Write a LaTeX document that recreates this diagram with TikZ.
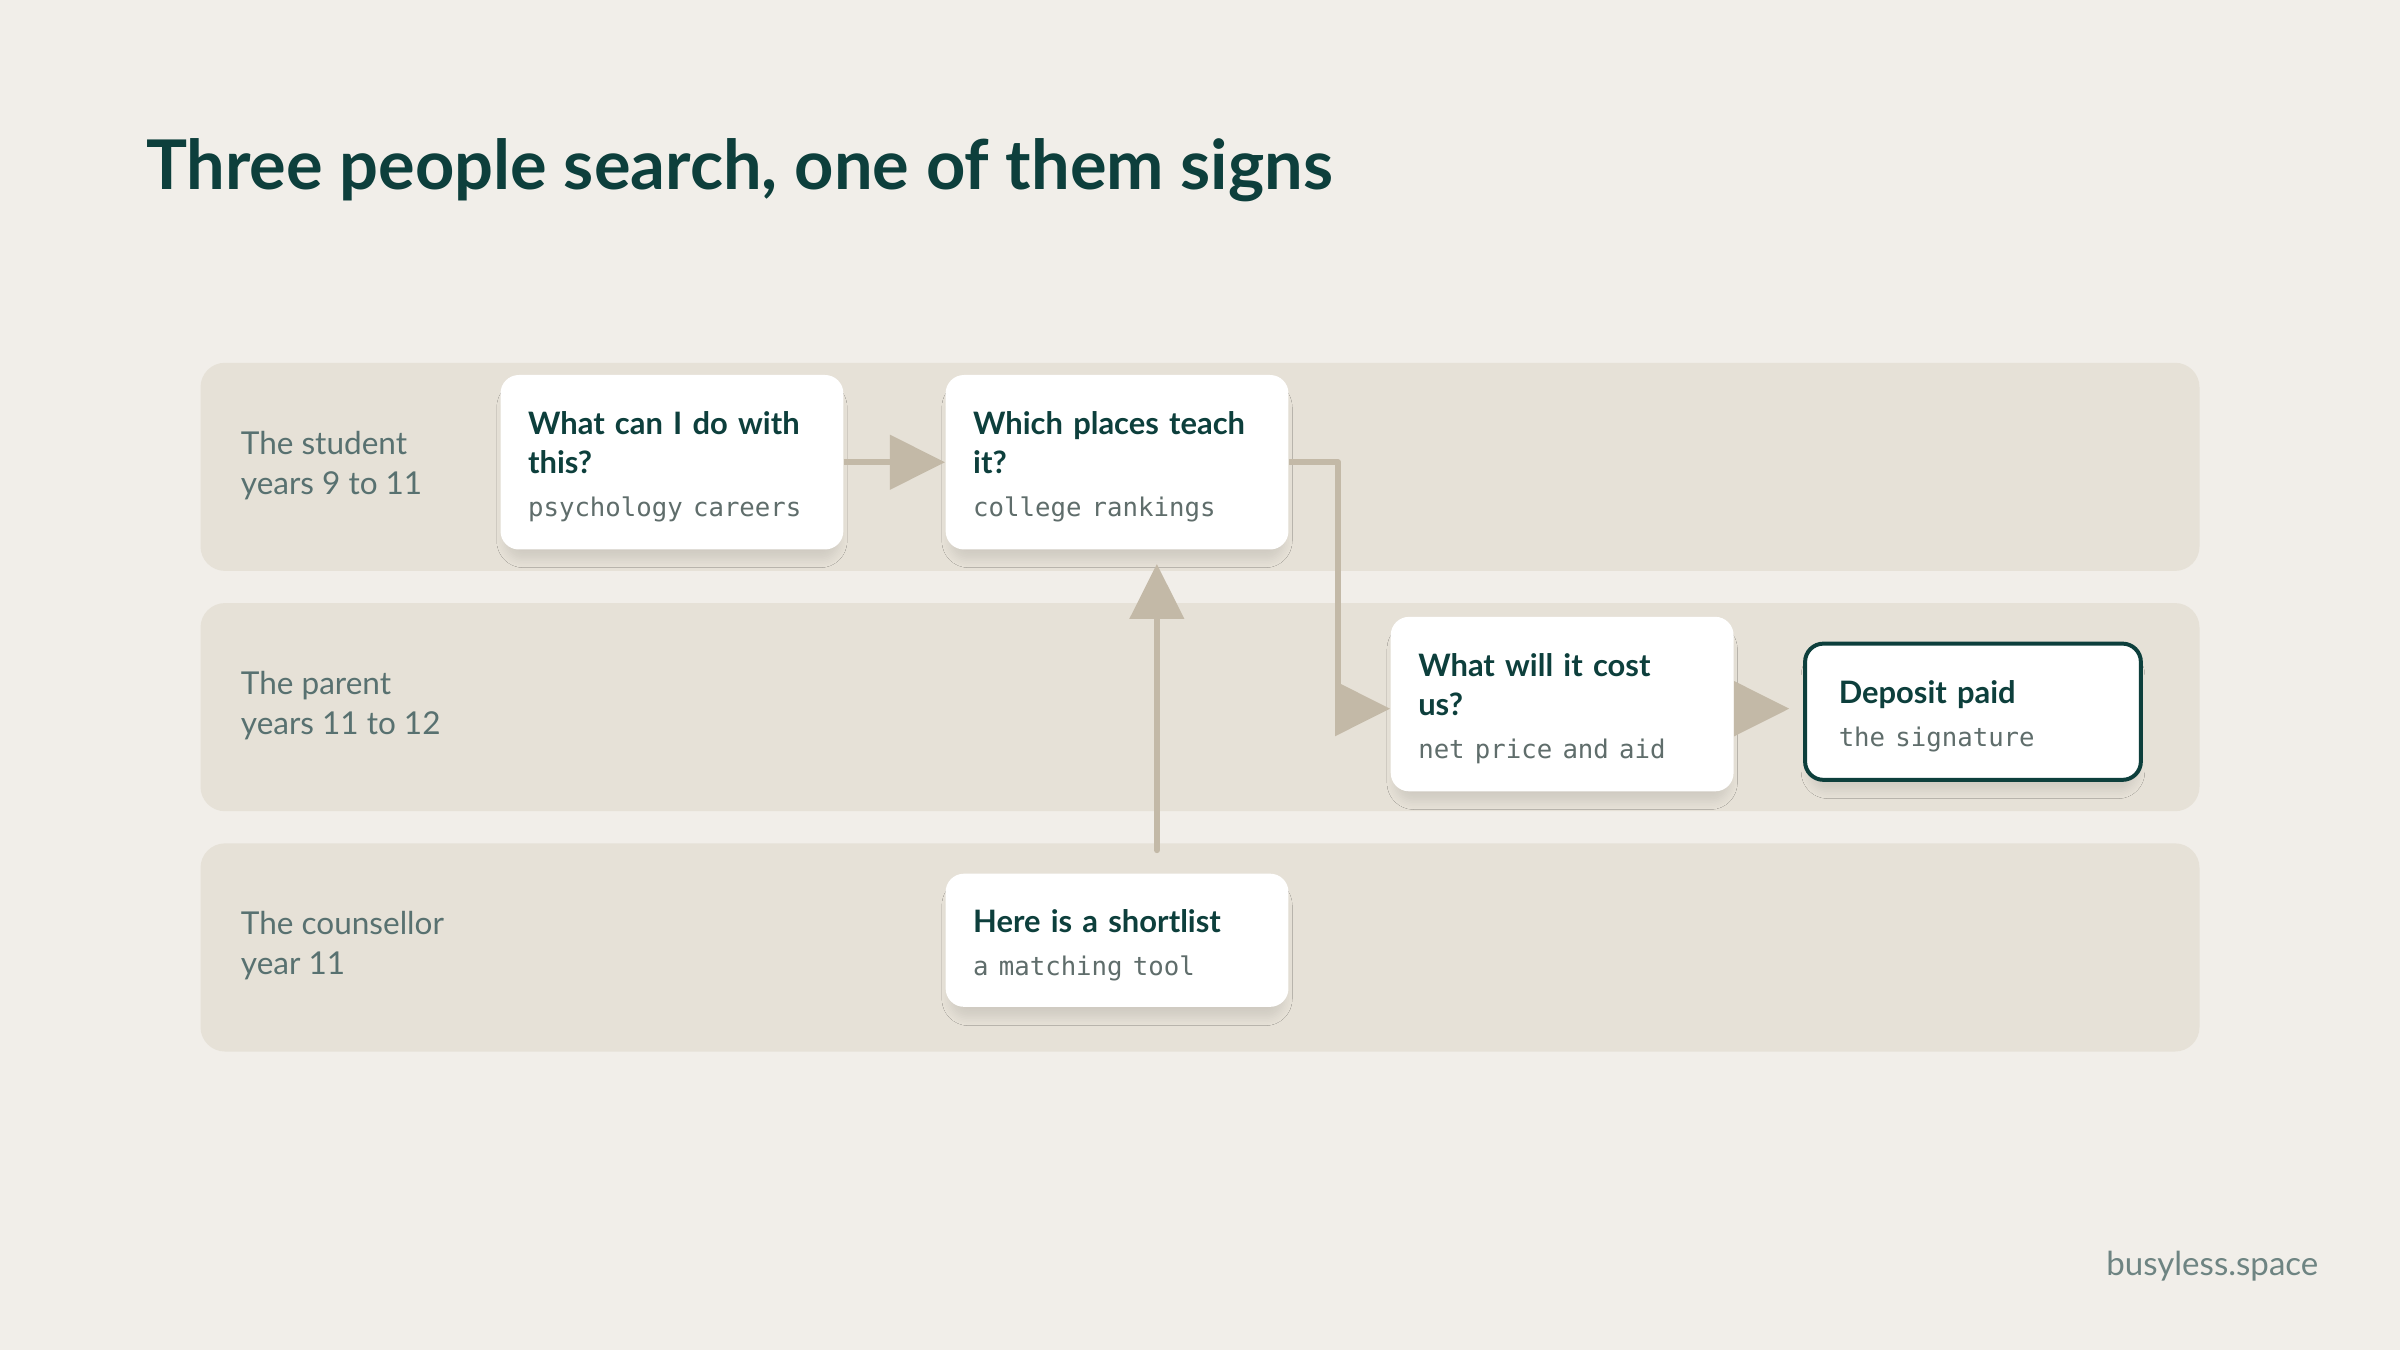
\documentclass[tikz,border=0pt]{standalone}
\usepackage{fontspec}
\setmainfont{Lato}
\newfontfamily\monofont{DejaVu Sans Mono}
\usepackage{xcolor}
\usepackage{tikz}
\usetikzlibrary{shapes,arrows.meta,positioning,shadows.blur,calc}

\definecolor{paper}{HTML}{F1EEE9}
\definecolor{lanefill}{HTML}{E6E1D7}
\definecolor{ink}{HTML}{0D3F3C}
\definecolor{lanetext}{HTML}{587170}
\definecolor{notetext}{HTML}{5F6D6B}
\definecolor{flowline}{HTML}{C3B9A7}
\definecolor{sitetext}{HTML}{6E8482}

\newcommand{\cardtext}[2]{{\fontsize{10.1}{12.5}\selectfont\bfseries\color{ink}\rule{0pt}{10.5pt}#1\par}\vspace{4pt}{\monofont\fontsize{8.4}{10}\selectfont\color{notetext}#2\par}}

\begin{document}
\begin{tikzpicture}[
    x=0.5pt, y=-0.5pt,
    lane/.style={rectangle, fill=lanefill, rounded corners=8pt, minimum width=653pt, minimum height=68pt, inner sep=0pt},
    lanelabel/.style={anchor=west, align=left, inner sep=0pt, text=lanetext, font=\fontsize{10.3}{13}\selectfont},
    card/.style={rectangle, fill=white, rounded corners=6pt, text width=94pt, inner xsep=9pt, inner ysep=0pt, align=left,
        blur shadow={shadow xshift=0pt, shadow yshift=-4pt, shadow scale=0.97, shadow blur radius=3pt, shadow blur steps=6, shadow opacity=10}},
    flow/.style={-{Triangle[length=18pt, width=17.5pt]}, line width=2pt, draw=flowline, line join=round}
]
\useasboundingbox[fill=paper] (0,0) rectangle (1568,882);

% Title
\node[anchor=base west, inner sep=0pt, text=ink, font=\fontsize{22.4}{27}\selectfont\bfseries] (title) at (95,124) {Three people search, one of them signs};

% Lanes
\node[lane] (studentlane) at (784,305) {};
\node[lane] (parentlane) at (784,462) {};
\node[lane] (counsellorlane) at (784,619) {};
\node[lanelabel] (studentlabel) at (157,304) {The student\\years 9 to 11};
\node[lanelabel] (parentlabel) at (157,461) {The parent\\years 11 to 12};
\node[lanelabel] (counsellorlabel) at (157,618) {The counsellor\\year 11};

% Cards
\node[card, minimum height=57pt] (whatcan) at (439,302) {\cardtext{What can I do with\\this?}{psychology careers}};
\node[card, minimum height=57pt, right=33pt of whatcan] (whichplaces) {\cardtext{Which places teach\\it?}{college rankings}};
\node[card, minimum height=57pt, right=33pt of whichplaces, yshift=-79pt] (whatcost) {\cardtext{What will it cost\\us?}{net price and aid}};
\node[card, minimum height=44.5pt, text width=87.7pt, inner xsep=11pt, draw=ink, line width=1.3pt, right=22.5pt of whatcost, yshift=-2.5pt] (deposit) {\cardtext{Deposit paid}{the signature}};
\node[card, minimum height=43.5pt, below=105.5pt of whichplaces] (shortlist) {\cardtext{Here is a shortlist}{a matching tool}};

% Arrows
\draw[flow] (whatcan) -- (whichplaces);
\draw[flow] (whichplaces.east) -- ++(32,0) |- ([yshift=-1.5pt]whatcost.west);
\draw[flow, shorten >=4.5pt] ([yshift=-1.5pt]whatcost.east) -- ([yshift=-1.5pt]whatcost.east -| deposit.west);
\draw[flow, line cap=round, shorten <=7.5pt, shorten >=4.5pt] ([xshift=13pt]shortlist.north) -- ([xshift=13pt]whichplaces.south);

% Footer
\node[anchor=base east, inner sep=0pt, text=sitetext, font=\fontsize{10.8}{13}\selectfont] (site) at (1515,833) {busyless.space};

\end{tikzpicture}
\end{document}
